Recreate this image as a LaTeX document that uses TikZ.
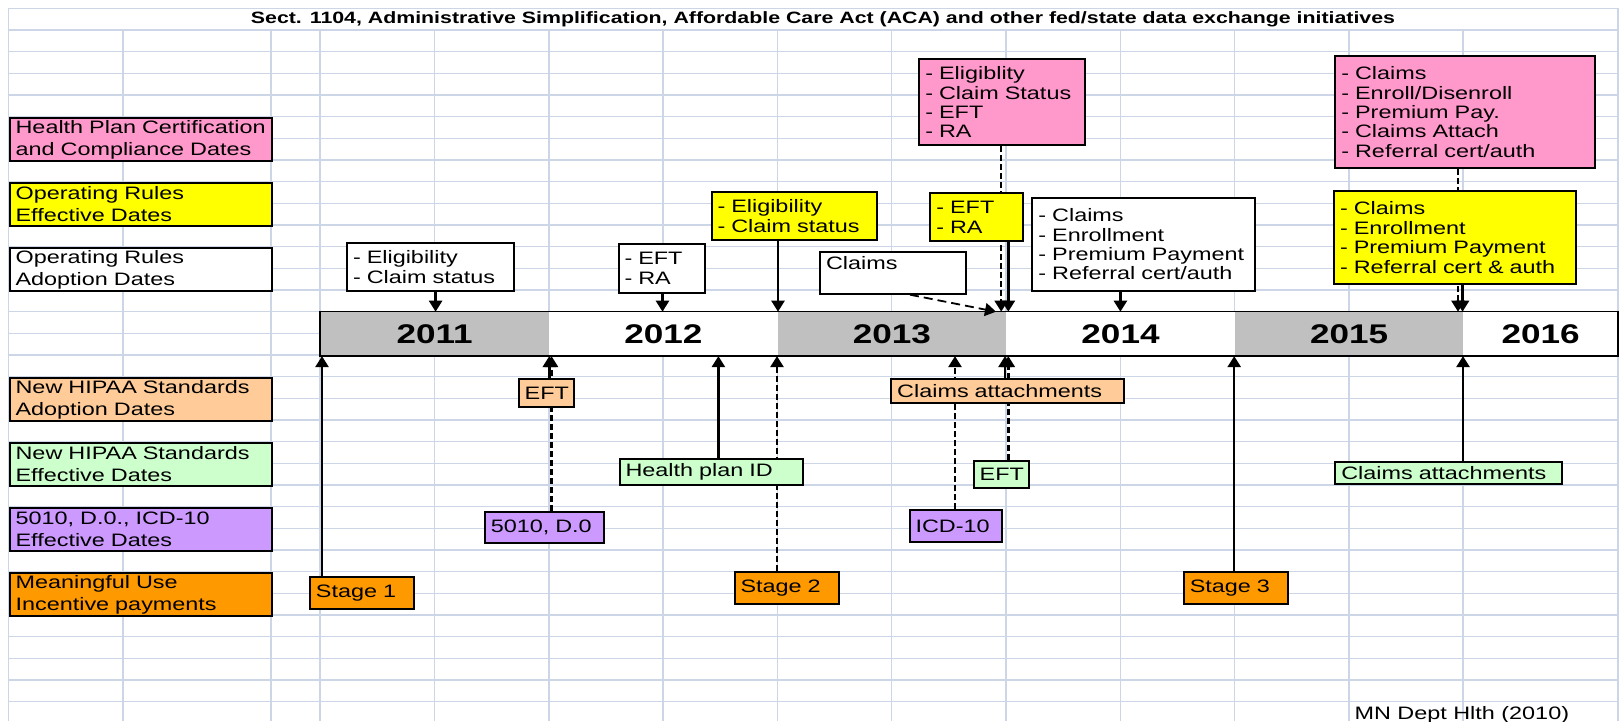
\documentclass[tikz,border=0pt]{standalone}
\usepackage{fontspec}
\setmainfont{Liberation Sans}[FakeStretch=1.3]
\usetikzlibrary{arrows.meta}
\definecolor{hpink}{HTML}{FF99CC}
\definecolor{oryellow}{HTML}{FFFF00}
\definecolor{hipeach}{HTML}{FFCC99}
\definecolor{higreen}{HTML}{CCFFCC}
\definecolor{cdpurple}{HTML}{CC99FF}
\definecolor{muorange}{HTML}{FF9900}
\definecolor{bargray}{HTML}{C0C0C0}
\definecolor{gridblue}{RGB}{205,214,230}
\begin{document}
\begin{tikzpicture}[x=1pt, y=-1pt,
		gridline/.style={gridblue, line width=1.5pt},
		datebox/.style={draw=black, line width=2pt, anchor=north west, inner xsep=6pt, inner ysep=0pt, align=left, font=\fontsize{18}{19.4}\selectfont},
		legendbox/.style={datebox, text width=250.4pt, minimum height=43.3pt, font=\fontsize{18}{22}\selectfont},
		yearcell/.style={anchor=north west, inner sep=0pt, minimum height=44pt, font=\fontsize{27}{27}\selectfont\bfseries},
		solidline/.style={line width=2.5pt, -{Triangle[length=11pt,width=13pt]}},
		dashline/.style={solidline, dash pattern=on 6pt off 3pt}]
		\useasboundingbox (0,0) rectangle (1621,721);
		\fill[white] (0,0) rectangle (1621,721);
		\foreach \k in {0,...,32}
			\draw[gridline] (8.6,{8.33+21.667*\k}) -- (1618,{8.33+21.667*\k});
		\foreach \x in {8.6,1618}
			\draw[gridline] (\x,8.33) -- (\x,721);
		\foreach \x in {122.9,271}
			\draw[gridline] (\x,30) -- (\x,721);
		\foreach \i in {0,...,10}
			\draw[gridline] ({320.2+114.3*\i},30) -- ({320.2+114.3*\i},721);

		\node[font=\fontsize{16.4}{18}\selectfont\bfseries, inner sep=0pt] (title) at (823,19.5) {Sect. 1104, Administrative Simplification, Affordable Care Act (ACA) and other fed/state data exchange initiatives};

		\node[legendbox, fill=hpink] (hpcert) at (8.6,116.7) {Health Plan Certification\\and Compliance Dates};
		\node[legendbox, fill=oryellow] (oreff) at (8.6,181.7) {Operating Rules\\Effective Dates};
		\node[legendbox, fill=white] (oradopt) at (8.6,246.7) {Operating Rules\\Adoption Dates};
		\node[legendbox, fill=hipeach] (hipadopt) at (8.6,376.7) {New HIPAA Standards\\Adoption Dates};
		\node[legendbox, fill=higreen] (hipeff) at (8.6,441.7) {New HIPAA Standards\\Effective Dates};
		\node[legendbox, fill=cdpurple] (cdeff) at (8.6,506.7) {5010, D.0., ICD-10\\Effective Dates};
		\node[legendbox, fill=muorange] (muinc) at (8.6,571.7) {Meaningful Use\\Incentive payments};

		\node[yearcell, fill=bargray, minimum width=228.6pt] (y2011) at (320.2,311.7) {2011};
		\node[yearcell, fill=white, minimum width=228.6pt] (y2012) at (548.8,311.7) {2012};
		\node[yearcell, fill=bargray, minimum width=228.6pt] (y2013) at (777.4,311.7) {2013};
		\node[yearcell, fill=white, minimum width=228.6pt] (y2014) at (1006,311.7) {2014};
		\node[yearcell, fill=bargray, minimum width=228.6pt] (y2015) at (1234.6,311.7) {2015};
		\node[yearcell, fill=white, minimum width=154.3pt] (y2016) at (1463.2,311.7) {2016};
		\draw[line width=1.5pt] (y2011.north west) rectangle (y2016.south east);

		\coordinate (a1) at (435.6,0);
		\coordinate (a2) at (662.5,0);
		\coordinate (a3) at (778,0);
		\coordinate (a4) at (910,0);
		\coordinate (e4) at (996,0);
		\coordinate (a5) at (1001.2,0);
		\coordinate (a6) at (1008.3,0);
		\coordinate (a7) at (1120.4,0);
		\coordinate (a8) at (1458,0);
		\coordinate (a9) at (1462.5,0);

		\node[datebox, fill=white, text width=155pt, minimum height=47.7pt] (elig11) at (346,242.3) {- Eligibility\\- Claim status};
		\draw[solidline] (elig11.south -| a1) -- (y2011.north -| a1);
		\node[datebox, fill=white, text width=74.1pt, minimum height=48.4pt] (eft12) at (617.5,243.3) {- EFT\\- RA};
		\draw[solidline] (eft12.south -| a2) -- (y2012.north -| a2);
		\node[datebox, fill=oryellow, text width=153.9pt, minimum height=48pt] (elig12) at (710.5,191) {- Eligibility\\- Claim status};
		\draw[solidline] (elig12.south -| a3) -- (y2013.north -| a3);
		\node[datebox, fill=white, text width=133.6pt, minimum height=41.7pt] (claims13) at (819,251) {Claims\\\mbox{}};
		\draw[solidline, line width=1.8pt, dash pattern=on 9pt off 5pt] (claims13.south -| a4) -- (y2013.north -| e4);
		\node[datebox, fill=hpink, text width=153.2pt, minimum height=86pt] (hpc13) at (918.3,58.3) {- Eligiblity\\- Claim Status\\- EFT\\- RA};
		\draw[dashline] (hpc13.south -| a5) -- (y2013.north -| a5);
		\node[datebox, fill=oryellow, text width=80.4pt, minimum height=47.7pt] (eft13) at (929.3,192.3) {- EFT\\- RA};
		\draw[solidline] (eft13.south -| a6) -- (y2014.north -| a6);
		\node[datebox, fill=white, text width=210.9pt, minimum height=93.3pt] (claims14) at (1031.4,196.7) {- Claims\\- Enrollment\\- Premium Payment\\- Referral cert/auth};
		\draw[solidline] (claims14.south -| a7) -- (y2014.north -| a7);
		\node[datebox, fill=hpink, text width=247.8pt, minimum height=112.3pt] (hpc15) at (1334.3,55) {- Claims\\- Enroll/Disenroll\\- Premium Pay.\\- Claims Attach\\- Referral cert/auth};
		\draw[dashline] (hpc15.south -| a8) -- (y2015.north -| a8);
		\node[datebox, fill=oryellow, text width=229.5pt, minimum height=93.3pt] (op15) at (1333,190) {- Claims\\- Enrollment\\- Premium Payment\\- Referral cert \& auth};
		\draw[solidline] (op15.south -| a9) -- (y2015.north -| a9);

		\coordinate (l1) at (322,0);
		\coordinate (l2) at (549.3,0);
		\coordinate (l3) at (551.5,0);
		\coordinate (l4) at (718.4,0);
		\coordinate (l5) at (777,0);
		\coordinate (l6) at (1005,0);
		\coordinate (l7) at (955,0);
		\coordinate (l8) at (1008.3,0);
		\coordinate (l9) at (1234.2,0);
		\coordinate (l10) at (1463,0);

		\node[datebox, fill=muorange, text width=92.3pt, minimum height=32.6pt] (stage1) at (308.9,575.7) {Stage 1};
		\draw[solidline] (stage1.north -| l1) -- (y2011.south -| l1);
		\node[datebox, fill=cdpurple, text width=106.9pt, minimum height=31.6pt] (v5010) at (483.8,510.7) {5010, D.0};
		\draw[dashline] (v5010.north -| l3) -- (y2012.south -| l3);
		\node[datebox, fill=hipeach, text width=43.6pt, minimum height=28.3pt] (eft11) at (517.7,377.7) {EFT};
		\draw[solidline] (eft11.north -| l2) -- (y2012.south -| l2);
		\node[datebox, fill=muorange, text width=92.4pt, minimum height=32.6pt] (stage2) at (733.5,570.7) {Stage 2};
		\draw[dashline] (stage2.north -| l5) -- (y2012.south -| l5);
		\node[datebox, fill=higreen, text width=171.9pt, minimum height=26.3pt] (hpid) at (618.5,457.7) {Health plan ID};
		\draw[solidline] (hpid.north -| l4) -- (y2012.south -| l4);
		\node[datebox, fill=cdpurple, text width=80.9pt, minimum height=31.7pt] (icd10) at (908.5,509.3) {ICD-10};
		\draw[dashline] (icd10.north -| l7) -- (y2013.south -| l7);
		\node[datebox, fill=higreen, text width=43.6pt, minimum height=27.3pt] (eft14) at (972.7,460) {EFT};
		\draw[dashline] (eft14.north -| l8) -- (y2014.south -| l8);
		\node[datebox, fill=hipeach, text width=220.8pt, minimum height=24.6pt] (catt13) at (890.2,377.7) {Claims attachments};
		\draw[solidline] (catt13.north -| l6) -- (y2013.south -| l6);
		\node[datebox, fill=muorange, text width=92.6pt, minimum height=32.6pt] (stage3) at (1182.8,570.7) {Stage 3};
		\draw[solidline] (stage3.north -| l9) -- (y2015.south -| l9);
		\node[datebox, fill=higreen, text width=215.1pt, minimum height=21.7pt] (catt15) at (1334.3,461) {Claims attachments};
		\draw[solidline] (catt15.north -| l10) -- (y2016.south -| l10);

		\node[anchor=base west, inner sep=0pt, font=\fontsize{18}{19.4}\selectfont] (credit) at (1354.3,719.5) {MN Dept Hlth (2010)};
	\end{tikzpicture}
\end{document}
